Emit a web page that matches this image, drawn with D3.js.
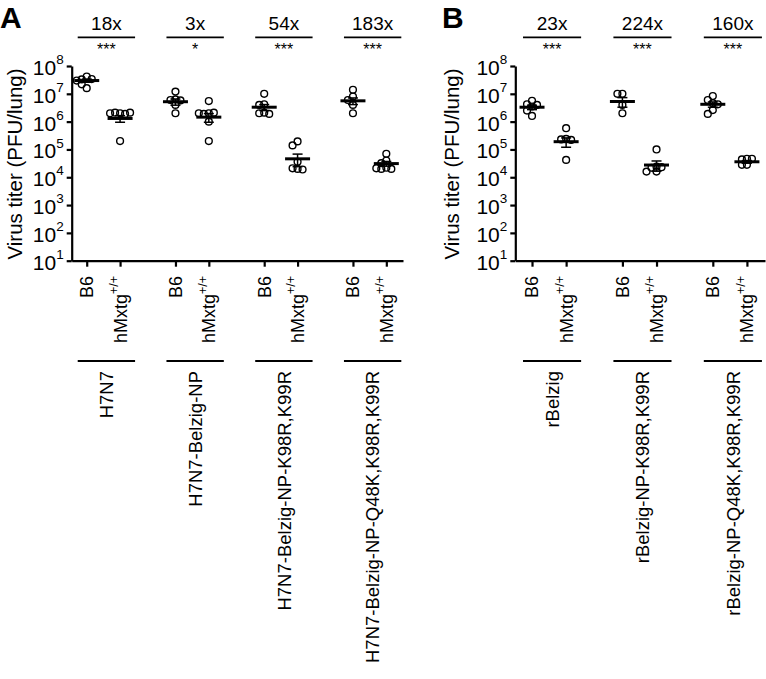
<!DOCTYPE html>
<html><head><meta charset="utf-8">
<script src="https://cdn.jsdelivr.net/npm/d3@7"></script>
<style>body{margin:0;background:#fff} text{font-family:"Liberation Sans",Arial,sans-serif;fill:#000}</style>
</head><body><svg id="c" width="766" height="679"></svg>
<script>
// ---------- data ----------
const mice = ["B6", "hMxtg"];
const yTicks = [1e1, 1e2, 1e3, 1e4, 1e5, 1e6, 1e7, 1e8];

const groupsA = ["H7N7", "H7N7-Belzig-NP", "H7N7-Belzig-NP-K98R,K99R", "H7N7-Belzig-NP-Q48K,K98R,K99R"];
const foldA = ["18x", "3x", "54x", "183x"];
const sigA = ["***", "*", "***", "***"];
const pointsA = [
  [[4.2e7, 1.6e7, 2.2e7, 3.3e7, 3.4e7, 3.0e7], [2.0e6, 2.1e6, 1.9e6, 2.0e6, 2.1e6, 2.0e5]],
  [[1.2e7, 6.3e6, 6.0e6, 5.8e6, 4.0e6, 2.0e6], [5.5e6, 2.0e6, 1.9e6, 2.1e6, 2.0e6, 1.0e6, 2.0e5]],
  [[1.0e7, 4.2e6, 4.0e6, 2.1e6, 2.0e6, 1.9e6], [1.95e5, 1.4e5, 3.6e4, 2.0e4, 2.1e4, 1.9e4]],
  [[1.4e7, 8.0e6, 6.0e6, 4.0e6, 2.0e6], [7.0e4, 4.0e4, 3.2e4, 2.2e4, 2.0e4, 2.0e4, 2.1e4]]
];
const meanA = [[3.0e7, 1.3e6], [5.2e6, 1.45e6], [3.3e6, 4.6e4], [5.6e6, 3.1e4]];
const semA = [[4.0e6, 3.5e5], [1.3e6, 5.0e5], [8.0e5, 2.2e4], [1.5e6, 6.0e3]];

const groupsB = ["rBelzig", "rBelzig-NP-K98R,K99R", "rBelzig-NP-Q48K,K98R,K99R"];
const foldB = ["23x", "224x", "160x"];
const sigB = ["***", "***", "***"];
const pointsB = [
  [[5.6e6, 4.2e6, 4.0e6, 3.5e6, 2.5e6, 1.6e6], [5.8e5, 2.4e5, 2.3e5, 2.2e5, 4.2e4]],
  [[1.0e7, 1.0e7, 4.0e6, 2.0e6], [1.0e5, 2.4e4, 2.2e4, 2.3e4, 1.6e4, 1.6e4]],
  [[8.3e6, 6.0e6, 4.6e6, 4.2e6, 2.6e6, 1.9e6], [4.6e4, 4.4e4, 4.6e4, 2.8e4, 2.8e4]]
];
const meanB = [[3.3e6, 1.9e5], [5.3e6, 2.75e4], [4.2e6, 3.6e4]];
const semB = [[6.0e5, 7.0e4], [2.0e6, 1.1e4], [9.0e5, 4.0e3]];

// ---------- drawing ----------
const svg = d3.select("#c");
const FONT = '"Liberation Sans",Arial,sans-serif';
const y = d3.scaleLog().domain([10, 1e8]).range([260.7, 66]);

function panel(cfg) {
  const g = svg.append("g");
  const x = d3.scaleLinear().domain(cfg.xDomain).range(cfg.xRange);
  const slot = (gi, si) => gi * cfg.gstep + si;
  const x0 = cfg.xRange[0];

  // panel letter
  g.append("text").attr("x", cfg.letterX).attr("y", 28).attr("font-size", 30).attr("font-weight", "bold").text(cfg.letter);

  // y title
  g.append("text").attr("transform", `translate(${cfg.titleX},164) rotate(-90)`).attr("text-anchor", "middle")
    .attr("font-size", 20.5).text("Virus titer (PFU/lung)");

  // y axis
  const ya = g.append("g").attr("transform", `translate(${x0},0)`)
    .call(d3.axisLeft(y).tickValues(yTicks).tickSize(5).tickSizeOuter(0).tickFormat(""));
  ya.selectAll("path,line").attr("stroke", "#000").attr("stroke-width", 2.2);
  ya.selectAll(".tick").each(function (d) {
    const t = d3.select(this).append("text").attr("x", -8).attr("dy", "0.4em").attr("text-anchor", "end")
      .attr("font-size", 21).attr("font-family", FONT).attr("fill", "#000");
    t.append("tspan").text("10");
    t.append("tspan").attr("font-size", 13.5).attr("dy", "-0.8em").text(Math.round(Math.log10(d)));
  });

  // x axis
  const tv = [];
  cfg.groups.forEach((_, gi) => mice.forEach((_, si) => tv.push(slot(gi, si))));
  const xa = g.append("g").attr("transform", `translate(0,${y.range()[0]})`)
    .call(d3.axisBottom(x).tickValues(tv).tickSize(6).tickSizeOuter(0).tickFormat(""));
  xa.selectAll("path,line").attr("stroke", "#000").attr("stroke-width", 2.2);

  cfg.groups.forEach((name, gi) => {
    mice.forEach((m, si) => {
      const xx = x(slot(gi, si));
      const t = g.append("text").attr("transform", `translate(${xx},276) rotate(-90)`).attr("text-anchor", "end")
        .attr("dy", "0.36em").attr("font-size", 18);
      t.append("tspan").text(m);
      if (si === 1) t.append("tspan").attr("font-size", 12.5).attr("dy", "-0.7em").text("+/+");
    });
    const xl = x(slot(gi, 0)) - 9, xr = x(slot(gi, 1)) + 15, xc = (xl + xr) / 2;
    // group label
    g.append("line").attr("x1", xl).attr("x2", xr).attr("y1", 361).attr("y2", 361).attr("stroke", "#000").attr("stroke-width", 1.8);
    g.append("text").attr("transform", `translate(${xc},371) rotate(-90)`).attr("text-anchor", "end")
      .attr("dy", "0.36em").attr("font-size", 18.5).text(name);
    // fold bracket
    g.append("line").attr("x1", xl).attr("x2", xr).attr("y1", 37.3).attr("y2", 37.3).attr("stroke", "#000").attr("stroke-width", 1.8);
    g.append("text").attr("x", xc).attr("y", 30).attr("text-anchor", "middle").attr("font-size", 19).text(cfg.fold[gi]);
    g.append("text").attr("x", xc).attr("y", 55).attr("text-anchor", "middle").attr("font-size", 16).text(cfg.sig[gi]);

    // points
    mice.forEach((m, si) => {
      const cx = x(slot(gi, si));
      const vals = cfg.points[gi][si].slice();
      const placed = [];
      const offs = [0, -5, 5, -10, 10, -15, 15];
      vals.forEach(v => {
        const py = y(v);
        let ox = 0;
        for (const o of offs) {
          if (placed.every(p => Math.hypot(p[0] - o, p[1] - py) >= 4.8)) { ox = o; break; }
        }
        placed.push([ox, py]);
      });
      // mean + sem
      const mu = cfg.mean[gi][si], se = cfg.sem[gi][si];
      g.append("line").attr("x1", cx).attr("x2", cx).attr("y1", y(mu + se)).attr("y2", y(Math.max(mu - se, 11)))
        .attr("stroke", "#000").attr("stroke-width", 1.5);
      [mu + se, mu - se].forEach(v => g.append("line").attr("x1", cx - 5).attr("x2", cx + 5).attr("y1", y(v)).attr("y2", y(v))
        .attr("stroke", "#000").attr("stroke-width", 1.5));
      g.selectAll(null).data(placed).enter().append("circle")
        .attr("cx", p => cx + p[0]).attr("cy", p => p[1]).attr("r", 3.4)
        .attr("fill", "none").attr("stroke", "#000").attr("stroke-width", 1.4);
      g.append("line").attr("x1", cx - 12.5).attr("x2", cx + 12.5).attr("y1", y(mu)).attr("y2", y(mu))
        .attr("stroke", "#000").attr("stroke-width", 3);
    });
  });
}

panel({ letter: "A", letterX: 0, titleX: 22, groups: groupsA, fold: foldA, sig: sigA,
  points: pointsA, mean: meanA, sem: semA, gstep: 2.66, xDomain: [-0.45, 9.48], xRange: [71.7, 403] });
panel({ letter: "B", letterX: 442, titleX: 459, groups: groupsB, fold: foldB, sig: sigB,
  points: pointsB, mean: meanB, sem: semB, gstep: 2.65, xDomain: [-0.49, 6.83], xRange: [515.3, 765] });
</script></body></html>
